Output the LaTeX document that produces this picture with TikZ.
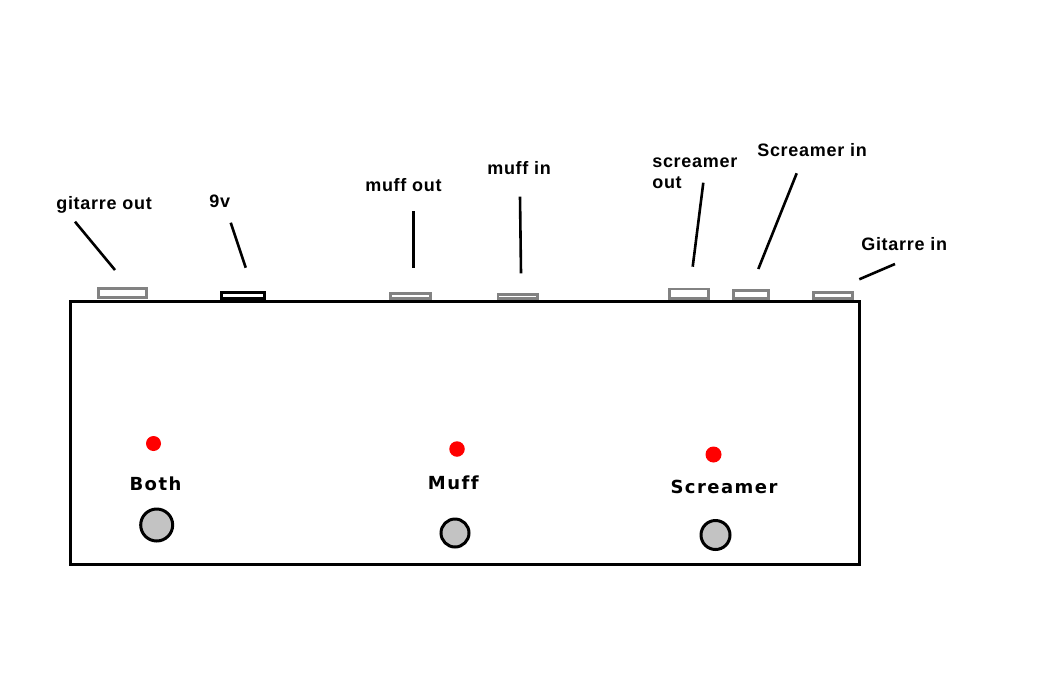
\documentclass[tikz,border=0pt]{standalone}
\usepackage{fontspec}
\setmainfont{Liberation Sans}
\newfontfamily\jackfont{Liberation Sans}[LetterSpace=4,Ligatures=NoCommon]
\newfontfamily\padfont{DejaVu Sans}[LetterSpace=8,Ligatures=NoCommon]
\usetikzlibrary{positioning}
\definecolor{jackgray}{RGB}{130,130,130}
\definecolor{padgray}{RGB}{195,195,195}
\tikzstyle{pedal}=[draw,line width=3pt,inner sep=0,minimum width=788.7pt,minimum height=262.7pt]
\tikzstyle{jack}=[draw=jackgray,fill=white,line width=2.6pt,inner sep=0]
\tikzstyle{jacktext}=[inner sep=0,anchor=base west,align=left,font=\jackfont\bfseries\fontsize{18}{21}\selectfont]
\tikzstyle{padtext}=[inner sep=0,anchor=base,font=\padfont\bfseries\fontsize{18}{21}\selectfont]
\tikzstyle{led}=[circle,fill=red,inner sep=0,minimum size=15pt]
\tikzstyle{footsw}=[circle,draw,fill=padgray,line width=3pt,inner sep=0]
\tikzstyle{every path}+=[line width=2.6pt]
\newcommand{\drawleads}[1]{
	\foreach \a/\b in {#1}{
		\draw (\a) -- (\b);
	}
}

\begin{document}
\begin{tikzpicture}[x=1pt,y=-1pt]
\useasboundingbox (0,0) rectangle (1062,675);

% housing
\node[pedal] (box) at (464.85,433.15) {};

% jacks on the top edge
\node[jack,minimum width=47.8pt,minimum height=9.4pt] (jgo) at (122.5,293) {};
\node[jack,draw=black,minimum width=43.1pt,minimum height=6.4pt] (j9v) at (242.8,295.5) {};
\node[jack,minimum width=40.1pt,minimum height=5.1pt] (jmo) at (410.3,296.2) {};
\node[jack,minimum width=39.7pt,minimum height=4.4pt] (jmi) at (517.8,296.5) {};
\node[jack,minimum width=39.4pt,minimum height=9.7pt] (jso) at (689,293.8) {};
\node[jack,minimum width=35.4pt,minimum height=8.4pt] (jsi) at (751,294.5) {};
\node[jack,minimum width=39.4pt,minimum height=6.4pt] (jgi) at (833,295.5) {};

% jack labels
\node[jacktext] (tgo) at (55,209.5) {gitarre out};
\node[jacktext] (t9v) at (208,207.3) {9v};
\node[jacktext] (tmo) at (364,191.7) {muff out};
\node[jacktext] (tmi) at (486,174.3) {muff in};
\node[jacktext] (tso) at (651,188.3) {screamer\\out};
\node[jacktext] (tsi) at (756,156) {Screamer in};
\node[jacktext] (tgi) at (860,250.7) {Gitarre in};

% leader lines
\coordinate (go1) at (75,221.7);  \coordinate (go2) at (115,270);
\coordinate (v1) at (230.7,222.7); \coordinate (v2) at (245.7,267.7);
\coordinate (mo1) at (413.3,211); \coordinate (mo2) at (413.3,268.3);
\coordinate (mi1) at (520,196.7); \coordinate (mi2) at (521,273.3);
\coordinate (so1) at (703.3,182.7); \coordinate (so2) at (692.7,266.7);
\coordinate (si1) at (796.7,173.3); \coordinate (si2) at (758.3,269);
\coordinate (gi1) at (895,264);   \coordinate (gi2) at (859.3,279.3);
\drawleads{go1/go2,v1/v2,mo1/mo2,mi1/mi2,so1/so2,si1/si2,gi1/gi2}

% leds, names and footswitches
\node[led] (lboth) at (153.5,443.5) {};
\node[led,minimum size=15.5pt] (lmuff) at (457,449) {};
\node[led,minimum size=16pt] (lscr) at (713.5,454.5) {};

\node[padtext] (nboth) at (155.5,490) {Both};
\node[padtext] (nmuff) at (453.3,489) {Muff};
\node[padtext] (nscr) at (724,493.3) {Screamer};

\node[footsw,minimum size=32pt] (sboth) at (156.7,525) {};
\node[footsw,minimum size=28pt] (smuff) at (455,533) {};
\node[footsw,minimum size=29pt] (sscr) at (715.5,535) {};
\end{tikzpicture}
\end{document}
